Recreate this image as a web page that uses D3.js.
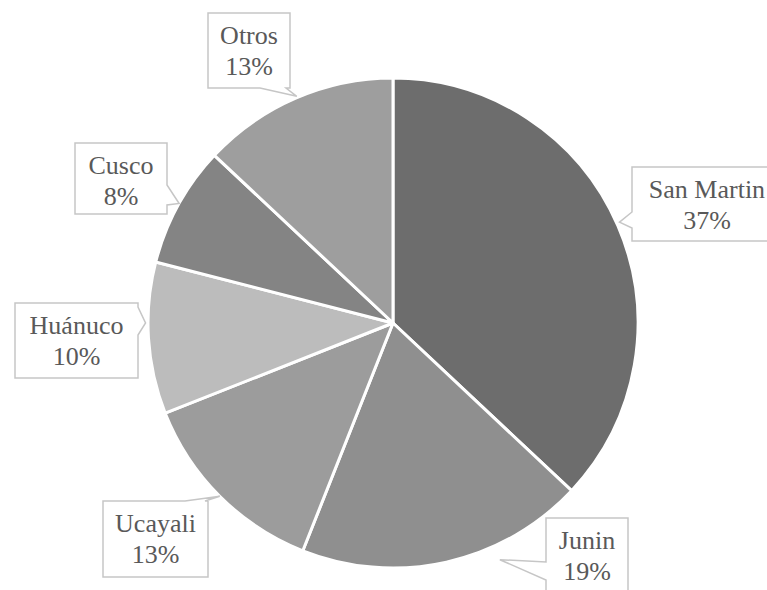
<!DOCTYPE html>
<html>
<head>
<meta charset="utf-8">
<script src="https://cdn.jsdelivr.net/npm/d3@7/dist/d3.min.js"></script>
<style>
  html, body { margin: 0; padding: 0; background: #fff; }
  svg { display: block; }
  .callout text { font-family: "Liberation Serif", "Noto Serif", FreeSerif, "Nimbus Roman", "Nimbus Roman No9 L", "Times New Roman", Times, Tinos, "DejaVu Serif", serif; }
</style>
</head>
<body>
<script>
// Regional share of production
const regions = ["San Martin", "Junin", "Ucayali", "Huánuco", "Cusco", "Otros"];
const shares = [37, 19, 13, 10, 8, 13];
const sliceColors = ["#6d6d6d", "#8f8f8f", "#9c9c9c", "#bcbcbc", "#848484", "#9e9e9e"];

// Callout boxes: box placement, the side carrying the pointer, pointer base
// (offsets along that side) and the pointer tip (angle in degrees, radius factor).
const calloutLayout = [
  { x: 632, y: 167, w: 150, h: 74, side: "left",   base: [45, 61], tipAngle: 66,    tipR: 1.012 },
  { x: 546, y: 518, w: 82,  h: 76, side: "left",   base: [44, 62], tipAngle: 155.7, tipR: 1.06 },
  { x: 103, y: 501, w: 105, h: 76, side: "top",    base: [82, 102], tipAngle: 225,  tipR: 1.0 },
  { x: 15,  y: 303, w: 123, h: 75, side: "right",  base: [4, 32],  tipAngle: 270,   tipR: 1.01 },
  { x: 75,  y: 143, w: 92,  h: 71, side: "right",  base: [42, 62], tipAngle: 299.2, tipR: 1.0 },
  { x: 208, y: 13,  w: 82,  h: 75, side: "bottom", base: [52, 78], tipAngle: 337,   tipR: 1.005 }
];

const width = 767, height = 590;
const cx = 393, cy = 323, radius = 245;

const svg = d3.select("body").append("svg")
  .attr("width", width).attr("height", height);

const pie = d3.pie().sort(null).value(d => d);
const arc = d3.arc().innerRadius(0).outerRadius(radius);
const arcs = pie(shares);

const g = svg.append("g").attr("transform", `translate(${cx},${cy})`);
g.selectAll("path.slice")
  .data(arcs)
  .join("path")
  .attr("class", "slice")
  .attr("d", arc)
  .attr("fill", (d, i) => sliceColors[i])
  .attr("stroke", "#ffffff")
  .attr("stroke-width", 3)
  .attr("stroke-linejoin", "round");

// Build a rectangular callout with a wedge pointing at the slice
function calloutPath(L) {
  const a = L.tipAngle * Math.PI / 180;
  const tx = cx + radius * L.tipR * Math.sin(a);
  const ty = cy - radius * L.tipR * Math.cos(a);
  const x0 = L.x, y0 = L.y, x1 = L.x + L.w, y1 = L.y + L.h;
  const p = d3.path();
  p.moveTo(x0, y0);
  if (L.side === "top") {
    p.lineTo(x0 + L.base[0], y0); p.lineTo(tx, ty); p.lineTo(x0 + L.base[1], y0);
  }
  p.lineTo(x1, y0);
  if (L.side === "right") {
    p.lineTo(x1, y0 + L.base[0]); p.lineTo(tx, ty); p.lineTo(x1, y0 + L.base[1]);
  }
  p.lineTo(x1, y1);
  if (L.side === "bottom") {
    p.lineTo(x0 + L.base[1], y1); p.lineTo(tx, ty); p.lineTo(x0 + L.base[0], y1);
  }
  p.lineTo(x0, y1);
  if (L.side === "left") {
    p.lineTo(x0, y0 + L.base[1]); p.lineTo(tx, ty); p.lineTo(x0, y0 + L.base[0]);
  }
  p.closePath();
  return p.toString();
}

const labels = svg.selectAll("g.callout")
  .data(regions.map((name, i) => ({ name, value: shares[i], L: calloutLayout[i] })))
  .join("g")
  .attr("class", "callout");

labels.append("path")
  .attr("d", d => calloutPath(d.L))
  .attr("fill", "#ffffff")
  .attr("stroke", "#c6c6c6")
  .attr("stroke-width", 1.5);

const textStyle = sel => sel
  .attr("text-anchor", "middle")
  .attr("font-size", 26)
  .attr("fill", "#595959");

labels.append("text")
  .call(textStyle)
  .attr("x", d => d.L.x + d.L.w / 2)
  .attr("y", d => d.L.y + 31)
  .text(d => d.name);

labels.append("text")
  .call(textStyle)
  .attr("x", d => d.L.x + d.L.w / 2)
  .attr("y", d => d.L.y + 62)
  .text(d => d.value + "%");
</script>
</body>
</html>
